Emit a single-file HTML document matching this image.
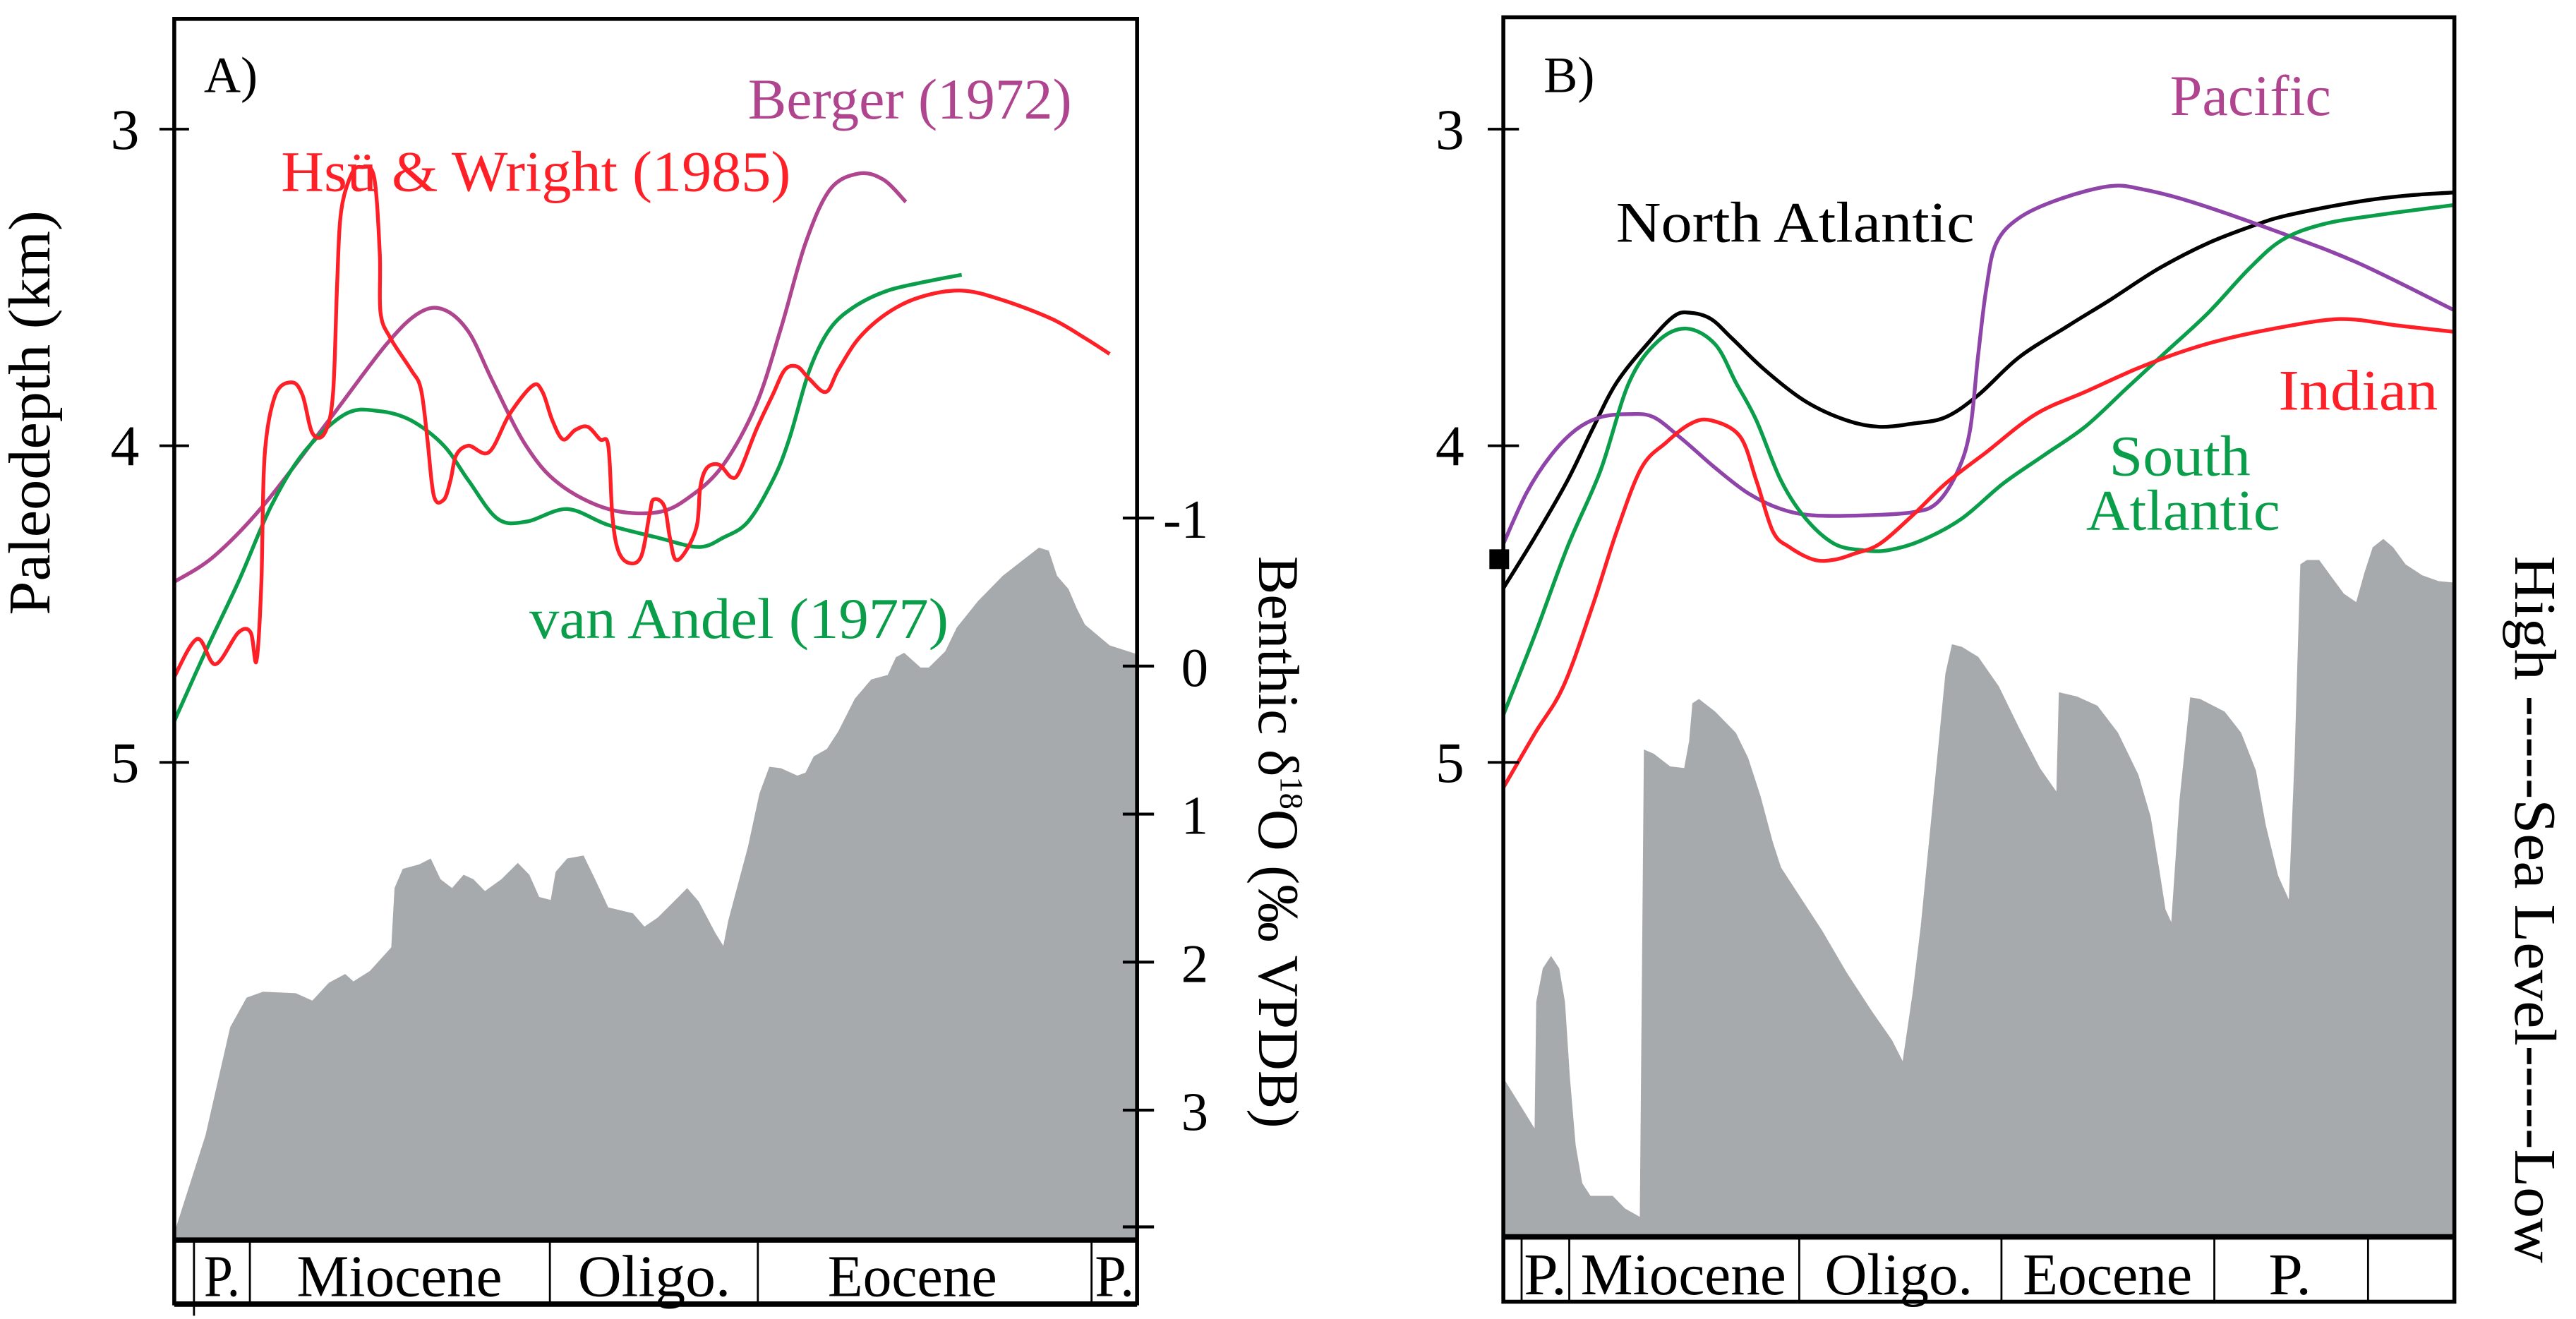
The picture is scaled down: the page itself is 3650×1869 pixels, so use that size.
<!DOCTYPE html>
<html><head><meta charset="utf-8"><style>
html,body{margin:0;padding:0;background:#fff;}
svg{display:block;font-family:"Liberation Serif",serif;}
</style></head><body>
<svg id="chart" width="3650" height="1869" viewBox="0 0 1567 802" preserveAspectRatio="none" xmlns="http://www.w3.org/2000/svg">
<rect x="0" y="0" width="1567" height="802" fill="#fff"/>
<g id="layerA"></g>
<g id="layerB"></g>
</svg>
<script>
// ---------- Panel A data (age Ma, depth km, benthic d18O permil) ----------
const bergerAge=[0,2.4,5.4,9.4,12.9,14.9,16.4,17.9,19.4,21.4,23.4,26.4,29.4,31.4,33.4,35.4,36.9,38.4,39.9,41.65,43.15,44.5];
const bergerDepth=[4.43,4.35,4.19,3.92,3.68,3.58,3.57,3.64,3.80,4.00,4.12,4.20,4.21,4.16,4.06,3.87,3.63,3.36,3.19,3.14,3.16,3.23];
const hsuAge=[0,1.4,2.5,3.9,4.65,5.0,5.3,5.5,6.15,7.15,7.8,8.4,9.15,9.65,9.9,10.15,10.8,11.4,12.15,12.5,12.55,13.15,14.4,15.0,15.4,15.8,16.4,16.8,17.15,17.9,19.15,20.4,21.8,22.4,23.0,23.65,24.4,25.15,25.9,26.4,26.65,27.0,27.65,28.4,28.9,29.15,29.8,30.15,30.5,31.15,31.8,32.0,32.4,33.15,33.9,34.4,35.4,36.4,37.15,37.9,38.65,39.65,40.4,41.65,43.4,45.4,47.9,50.4,53.4,55.4,56.9];
const hsuDepth=[4.73,4.61,4.69,4.59,4.59,4.68,4.43,4.03,3.84,3.80,3.84,3.96,3.96,3.84,3.50,3.26,3.14,3.12,3.15,3.39,3.58,3.66,3.76,3.82,3.98,4.16,4.17,4.11,4.03,4.00,4.02,3.90,3.81,3.83,3.92,3.98,3.95,3.94,3.98,4.00,4.22,4.33,4.37,4.35,4.22,4.17,4.19,4.29,4.36,4.33,4.25,4.13,4.07,4.06,4.10,4.08,3.95,3.84,3.76,3.75,3.79,3.83,3.76,3.66,3.58,3.53,3.51,3.54,3.60,3.66,3.71];
const andelAge=[0,1.9,3.9,5.9,7.9,10.4,12.4,14.4,16.4,17.9,19.65,21.4,23.9,26.4,29.4,31.9,33.4,34.9,36.4,37.4,38.65,39.9,41.4,43.4,45.9,47.9];
const andelDepth=[4.87,4.65,4.43,4.19,4.02,3.90,3.89,3.92,4.00,4.11,4.23,4.24,4.20,4.25,4.29,4.32,4.29,4.24,4.11,3.98,3.76,3.63,3.56,3.51,3.48,3.46];
const isoAge=[0,1.9,3.4,4.4,5.4,7.4,8.4,9.4,10.4,10.9,11.9,13.2,13.4,13.9,14.9,15.6,16.2,16.9,17.6,18.2,18.9,19.9,20.9,21.6,22.2,22.9,23.2,23.9,24.9,25.6,26.4,27.9,28.6,29.4,30.4,31.2,31.9,32.9,33.4,33.7,34.9,35.6,36.2,36.9,37.9,38.4,38.9,39.7,40.4,41.4,42.4,43.4,43.9,44.4,45.0,45.4,45.9,46.9,47.6,48.9,50.4,51.9,52.6,53.2,53.7,54.4,54.9,55.4,56.9,58.57];
const isoValue=[3.83,3.17,2.44,2.24,2.20,2.21,2.26,2.14,2.08,2.13,2.06,1.90,1.50,1.37,1.34,1.30,1.44,1.50,1.41,1.44,1.52,1.44,1.33,1.41,1.56,1.58,1.39,1.30,1.28,1.44,1.63,1.67,1.76,1.70,1.59,1.50,1.59,1.80,1.89,1.72,1.22,0.86,0.68,0.69,0.74,0.72,0.61,0.56,0.44,0.22,0.09,0.06,-0.06,-0.09,-0.03,0.01,0.01,-0.10,-0.26,-0.44,-0.61,-0.74,-0.80,-0.78,-0.61,-0.52,-0.39,-0.28,-0.14,-0.08];
const depthTicks=[3,4,5];
const isoTicks=[-1,0,1,2,3];
const epochsA=["P.","Miocene","Oligo.","Eocene","P."];
// ---------- Panel B data (age Ma, depth km, sea level arbitrary) ----------
const pacAge=[0,1.4,2.9,4.4,5.9,7.65,9.15,10.9,12.9,14.9,16.9,18.9,21.9,24.9,26.4,27.65,28.4,28.9,29.4,30.0,31.4,33.9,36.9,38.9,41.9,46.9,51.9,57.8];
const pacDepth=[4.31,4.15,4.03,3.95,3.91,3.90,3.91,3.98,4.07,4.15,4.20,4.22,4.22,4.21,4.18,4.08,3.95,3.71,3.50,3.36,3.28,3.22,3.18,3.19,3.23,3.32,3.42,3.57];
const natAge=[0,1.9,3.9,5.4,6.9,8.9,10.4,11.4,12.65,13.9,15.9,18.4,20.9,22.9,24.9,26.9,28.9,31.4,34.4,36.9,39.9,42.9,45.9,47.9,51.9,54.9,57.8];
const natDepth=[4.45,4.29,4.11,3.95,3.80,3.67,3.59,3.58,3.60,3.66,3.76,3.86,3.92,3.94,3.93,3.91,3.84,3.72,3.62,3.54,3.44,3.36,3.30,3.27,3.23,3.21,3.20];
const satAge=[0,1.9,3.9,5.9,7.65,9.4,11.15,12.9,14.15,15.4,16.9,18.4,20.15,21.9,23.4,25.4,27.9,30.4,32.9,35.4,37.9,40.4,42.9,45.4,47.4,49.9,53.4,57.8];
const satDepth=[4.85,4.60,4.32,4.08,3.80,3.67,3.63,3.68,3.80,3.92,4.11,4.23,4.31,4.33,4.33,4.30,4.23,4.12,4.03,3.94,3.82,3.70,3.58,3.44,3.35,3.30,3.27,3.24];
const indAge=[0,1.9,3.65,5.4,6.9,8.4,9.9,11.4,12.65,14.4,15.4,16.4,17.4,18.9,20.15,21.4,22.9,24.9,26.9,29.4,32.4,35.4,38.4,40.9,43.4,46.9,50.9,54.4,57.8];
const indDepth=[5.08,4.91,4.76,4.51,4.27,4.07,3.99,3.93,3.92,3.97,4.11,4.27,4.32,4.36,4.36,4.34,4.31,4.22,4.12,4.02,3.90,3.83,3.76,3.71,3.67,3.63,3.60,3.62,3.64];
const slAge=[0,1.9,2.0,2.4,2.9,3.4,3.75,4.05,4.4,4.8,5.3,6.65,7.4,8.3,8.55,9.15,10.15,11.0,11.3,11.5,11.9,12.9,14.15,14.9,15.65,16.4,16.9,17.9,19.4,20.9,22.4,23.65,24.3,24.9,25.4,25.9,26.4,26.9,27.3,27.9,28.9,30.15,31.4,32.65,33.65,33.8,34.9,36.15,37.4,38.65,39.4,39.9,40.3,40.65,41.15,41.8,42.4,43.9,44.9,45.8,46.4,47.15,47.8,48.15,48.5,48.9,49.65,50.4,51.15,51.9,52.4,52.9,53.55,54.15,54.9,55.9,56.9,57.9];
const slLevel=[19.2,13.2,28.2,32.2,33.7,32.2,28.2,19.2,11.2,6.7,5.2,5.2,3.7,2.7,58.2,57.7,56.2,56.0,59.2,63.7,64.2,62.7,60.2,57.2,52.7,47.2,44.2,41.2,36.7,31.7,27.2,23.7,21.2,29.2,37.2,47.2,57.2,67.2,70.7,70.4,69.2,65.7,60.7,56.0,53.2,65.0,64.5,63.4,60.2,55.2,50.2,44.2,39.2,37.7,52.2,64.4,64.2,62.7,60.2,55.7,49.2,43.2,40.4,57.2,80.2,80.7,80.7,78.7,76.7,75.7,79.2,82.2,83.2,82.2,80.2,78.9,78.2,78.0];
const epochsB=["P.","Miocene","Oligo.","Eocene","P."];

// ---------- axis functions ----------
const xA=a=>106+10*a;
const xB=a=>914.5+9.996*a;
const yD=d=>(d-2.592)*192.5;
const yIso=v=>405+90*v;
const ySL=l=>753.7-5.12*l;

const NS="http://www.w3.org/2000/svg";
const A=document.getElementById('layerA'), B=document.getElementById('layerB');
function mk(parent,tag,attrs){const e=document.createElementNS(NS,tag);for(const k in attrs)e.setAttribute(k,attrs[k]);parent.appendChild(e);return e;}
function smooth(pts){let d=`M${pts[0][0].toFixed(1)},${pts[0][1].toFixed(1)}`;
 for(let i=0;i<pts.length-1;i++){const p0=pts[Math.max(0,i-1)],p1=pts[i],p2=pts[i+1],p3=pts[Math.min(pts.length-1,i+2)];
  const c1=[p1[0]+(p2[0]-p0[0])/6,p1[1]+(p2[1]-p0[1])/6],c2=[p2[0]-(p3[0]-p1[0])/6,p2[1]-(p3[1]-p1[1])/6];
  d+=`C${c1[0].toFixed(1)},${c1[1].toFixed(1)} ${c2[0].toFixed(1)},${c2[1].toFixed(1)} ${p2[0].toFixed(1)},${p2[1].toFixed(1)}`;}
 return d;}
function line(parent,xs,ys,fx,fy,color,name){const pts=xs.map((a,i)=>[fx(a),fy(ys[i])]);
 const p=mk(parent,'path',{d:smooth(pts),fill:'none',stroke:color,'stroke-width':2.3,'stroke-linejoin':'round'});
 
 }
function area(parent,xs,ys,fx,fy,base,name){let d=`M${fx(xs[0])},${base}`;xs.forEach((a,i)=>{d+=`L${fx(a).toFixed(1)},${fy(ys[i]).toFixed(1)}`;});d+=`L${fx(xs[xs.length-1]).toFixed(1)},${base}Z`;
 const p=mk(parent,'path',{d:d,fill:'#a7aaad'});
 
 }
function txt(parent,x,y,s,size,color,name,anchor,rot,len){const t=mk(parent,'text',{x:x,y:y,'font-size':size,fill:color,'text-anchor':anchor||'start'});
 if(len){t.setAttribute('textLength',len);t.setAttribute('lengthAdjust','spacingAndGlyphs');}
 if(rot)t.setAttribute('transform',`rotate(${rot} ${x} ${y})`);t.textContent=s;
 
 return t;}

// ---------- Panel A ----------
area(A,isoAge,isoValue,xA,yIso,754,'benthic-d18o-area');
line(A,bergerAge,bergerDepth,xA,yD,'#b0458f','berger-1972-line');
line(A,andelAge,andelDepth,xA,yD,'#0a9e4a','van-andel-1977-line');
line(A,hsuAge,hsuDepth,xA,yD,'#ff1f26','hsu-wright-1985-line');
mk(A,'rect',{x:106,y:11.5,width:585.7,height:781,fill:'none',stroke:'#000','stroke-width':2.4});
mk(A,'line',{x1:106,y1:754,x2:691.7,y2:754,stroke:'#000','stroke-width':3.2});
mk(A,'line',{x1:106,y1:793,x2:691.7,y2:793,stroke:'#000','stroke-width':3.2});
[118,152,334.5,461,664].forEach((x,i)=>{mk(A,'line',{x1:x,y1:754,x2:x,y2:i==0?800:793,stroke:'#000','stroke-width':1.2});});
const epAx=[135,243,398,555,678];
const epAw=[22,125,93,103,24];
epochsA.forEach((s,i)=>txt(A,epAx[i],788,s,36,'#000','epoch-label-a','middle',0,epAw[i]));
depthTicks.forEach(v=>{mk(A,'line',{x1:97,y1:yD(v),x2:115,y2:yD(v),stroke:'#000','stroke-width':1.6});txt(A,76,yD(v)+12,String(v),35,'#000','depth-tick-label-a','middle');});
isoTicks.forEach(v=>{mk(A,'line',{x1:683,y1:yIso(v),x2:702,y2:yIso(v),stroke:'#000','stroke-width':1.8});txt(A,735,yIso(v)+12,String(v),33,'#000','d18o-tick-label','end');});
mk(A,'line',{x1:683,y1:746,x2:702,y2:746,stroke:'#000','stroke-width':1.8});
txt(A,30,251,'Paleodepth (km)',36,'#000','y-axis-title-left','middle',-90,246);
const rt=txt(A,766,512,'',35,'#000','y-axis-title-right','middle',90);
rt.innerHTML='Benthic δ<tspan font-size="20" dy="-13">18</tspan><tspan dy="13">O (‰ VPDB)</tspan>';
txt(A,124,56,'A)',31,'#000','panel-label-a');
txt(A,455,72,'Berger (1972)',35,'#b0458f','legend-berger','start',0,197);
txt(A,171,116,'Hsü & Wright (1985)',35,'#ff1f26','legend-hsu-wright','start',0,310);
txt(A,322,388,'van Andel (1977)',35,'#0a9e4a','legend-van-andel','start',0,255);

// ---------- Panel B ----------
area(B,slAge,slLevel,xB,ySL,754,'sea-level-area');
line(B,natAge,natDepth,xB,yD,'#000','north-atlantic-line');
line(B,pacAge,pacDepth,xB,yD,'#8e44a8','pacific-line');
line(B,satAge,satDepth,xB,yD,'#0a9e4a','south-atlantic-line');
line(B,indAge,indDepth,xB,yD,'#ff1f26','indian-line');
mk(B,'rect',{x:914.5,y:10.5,width:578.5,height:781,fill:'none',stroke:'#000','stroke-width':2.4});
mk(B,'line',{x1:914.5,y1:752,x2:1493,y2:752,stroke:'#000','stroke-width':3.2});
[925.6,954.6,1094.5,1217.5,1347,1440.5].forEach(x=>{mk(B,'line',{x1:x,y1:752,x2:x,y2:791,stroke:'#000','stroke-width':1.2});});
const epBx=[940,1024,1155,1282,1393];
const epBw=[26,125,90,103,26];
epochsB.forEach((s,i)=>txt(B,epBx[i],787,s,36,'#000','epoch-label-b','middle',0,epBw[i]));
depthTicks.forEach(v=>{mk(B,'line',{x1:905,y1:yD(v),x2:924,y2:yD(v),stroke:'#000','stroke-width':1.6});txt(B,882,yD(v)+12,String(v),35,'#000','depth-tick-label-b','middle');});
const sq=mk(B,'rect',{x:906,y:334,width:12,height:12,fill:'#000'});


txt(B,1530,553,'High -----Sea Level-----Low',36,'#000','sea-level-axis-title','middle',90,430);
txt(B,939,56,'B)',31,'#000','panel-label-b');
txt(B,1320,70,'Pacific',35,'#b0458f','label-pacific','start',0,98);
txt(B,983,147,'North Atlantic',35,'#000','label-north-atlantic','start',0,218);
txt(B,1386,249,'Indian',35,'#ff1f26','label-indian','start',0,97);
txt(B,1283,289,'South',35,'#0a9e4a','label-south-atlantic-1','start',0,86);
txt(B,1269,322,'Atlantic',35,'#0a9e4a','label-south-atlantic-2','start',0,118);
</script>
</body></html>
